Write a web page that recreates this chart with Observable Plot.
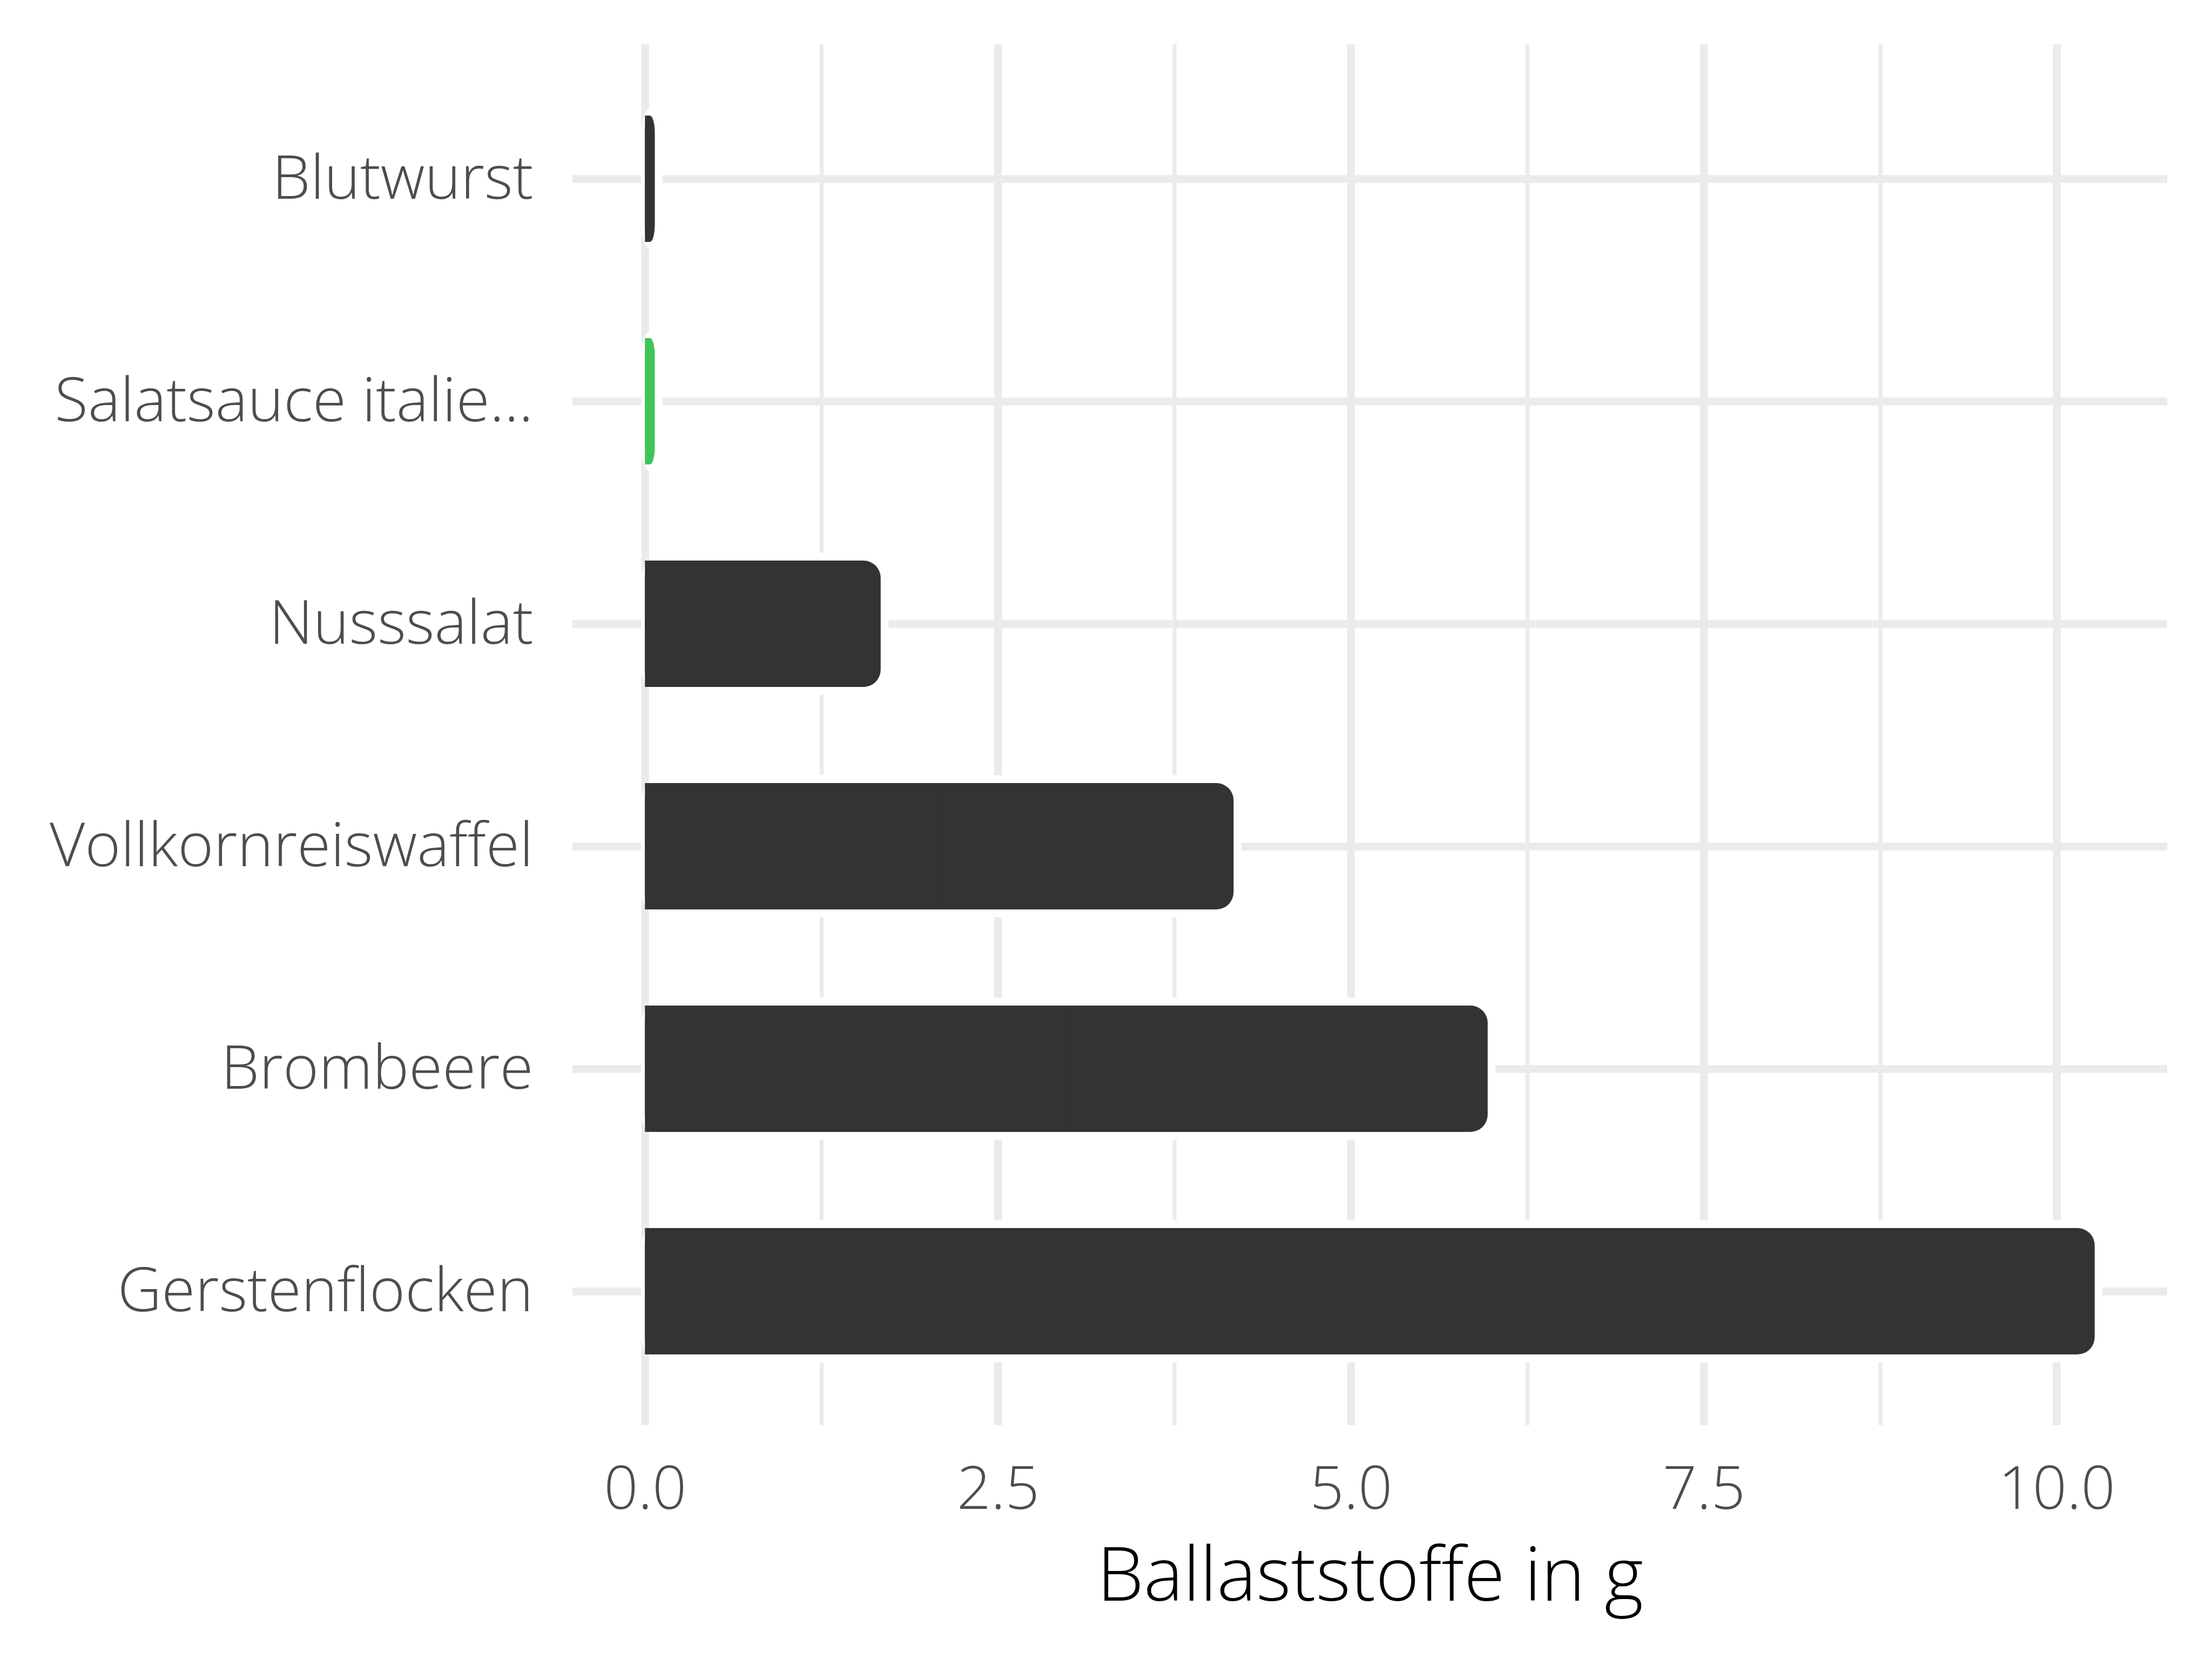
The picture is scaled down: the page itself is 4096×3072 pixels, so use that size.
<!DOCTYPE html>
<html>
<head>
<meta charset="utf-8">
<script src="https://cdn.jsdelivr.net/npm/d3@7"></script>
<script src="https://cdn.jsdelivr.net/npm/@observablehq/plot@0.6"></script>
<style>
  html, body { margin: 0; padding: 0; background: #ffffff; }
  #chart svg { display: block; }
</style>
</head>
<body>
<div id="chart"></div>
<script>
const foods = ["Blutwurst", "Salatsauce italie...", "Nusssalat", "Vollkornreiswaffel", "Brombeere", "Gerstenflocken"];
const fiber = [0.07, 0.07, 1.67, 4.17, 5.97, 10.27];
const barColors = ["#333333", "#40C45A", "#333333", "#333333", "#333333", "#333333"];
const majorTicks = [0, 2.5, 5, 7.5, 10];
const minorTicks = [1.25, 3.75, 6.25, 8.75];
const axisTitle = "Ballaststoffe in g";

const data = foods.map((name, i) => ({name, value: fiber[i], color: barColors[i]}));
const maxV = d3.max(fiber);

const W = 4096, H = 3072;
const grid = "#EBEBEB";
const chart = Plot.plot({
  width: W,
  height: H,
  marginLeft: 1060,
  marginRight: 83,
  marginTop: 82,
  marginBottom: 433,
  style: {fontFamily: "'Open Sans', sans-serif", background: "#ffffff", overflow: "visible"},
  x: {domain: [-0.05 * maxV, 1.05 * maxV]},
  y: {domain: foods, paddingInner: 0.433, paddingOuter: 0.3165},
  color: {type: "identity"},
  marks: [
    Plot.gridX(minorTicks, {stroke: grid, strokeOpacity: 1, strokeWidth: 7.3}),
    Plot.gridX(majorTicks, {stroke: grid, strokeOpacity: 1, strokeWidth: 14.5}),
    Plot.gridY(foods, {stroke: grid, strokeOpacity: 1, strokeWidth: 14.5}),
    // white halo around bars
    Plot.barX(data, {x: "value", y: "name", fill: "#ffffff", insetTop: -14.5, insetBottom: -14.5, insetRight: -14.5, insetLeft: -7, rx: 46, ry: 46}),
    Plot.barX(data, {x: "value", y: "name", fill: "color", rx: 32, ry: 32}),
    Plot.barX(data, {x1: 0, x2: d => d.value / 2, y: "name", fill: "color"}),
    Plot.axisY(foods, {tickSize: 0, tickPadding: 73, fontSize: 113, fontWeight: 350, color: "#4D4D4D", label: null}),
    Plot.axisX(majorTicks, {tickSize: 0, tickPadding: 76, fontSize: 111, fontWeight: 350, color: "#4D4D4D", tickFormat: d => d.toFixed(1), label: null}),
    Plot.text([axisTitle], {frameAnchor: "bottom", lineAnchor: "bottom", dy: 324, fontSize: 138, fontWeight: 350, fill: "#000000"})
  ]
});
document.getElementById("chart").appendChild(chart);
</script>
</body>
</html>
